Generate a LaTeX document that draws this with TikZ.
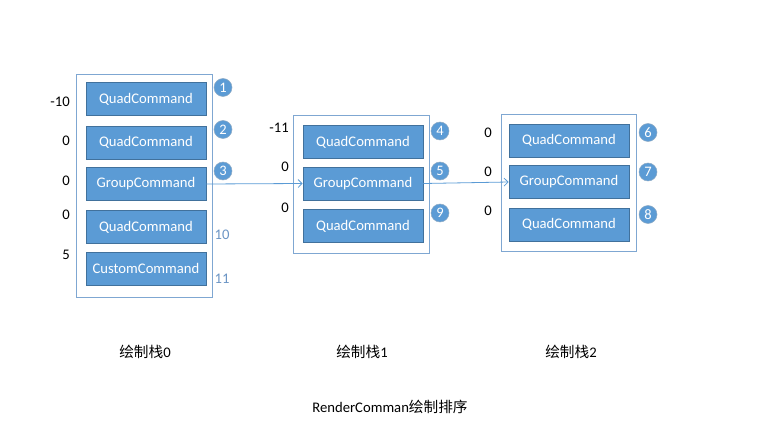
\documentclass[tikz,border=0pt]{standalone}
\usepackage{fontspec}
\setmainfont{Carlito}
\newfontfamily\cjk{Noto Sans CJK SC}
\usetikzlibrary{arrows.meta}
\definecolor{boxfill}{HTML}{5B9BD5}
\definecolor{boxborder}{HTML}{41719C}
\definecolor{framecol}{HTML}{7FA7D2}
\definecolor{numcol}{HTML}{6A94C4}
\definecolor{arrowcol}{HTML}{5B9BD5}
\tikzset{
  cmd/.style={draw=boxborder, line width=0.8pt, fill=boxfill, text=white, minimum width=120pt, minimum height=33pt, inner sep=0pt, font=\fontsize{14.67}{17}\selectfont},
  frame/.style={draw=framecol, line width=0.9pt, inner sep=0pt},
  badge/.style={circle, draw=boxborder!60, line width=0.5pt, fill=boxfill, text=white, minimum size=18pt, inner sep=0pt, font=\fontsize{14.5}{16}\selectfont},
  plainnum/.style={text=numcol, inner sep=0pt, font=\fontsize{14.67}{17}\selectfont},
  prio/.style={anchor=east, inner sep=0pt, font=\fontsize{14.67}{17}\selectfont},
  caption/.style={inner sep=0pt, font=\fontsize{14.67}{17}\selectfont},
  conn/.style={draw=arrowcol, line width=0.8pt, -{Straight Barb[length=4pt,width=8pt]}}
}
\begin{document}
\begin{tikzpicture}[x=1pt,y=-1pt]
\useasboundingbox (0,0) rectangle (777,433);
% frames
\node[frame, minimum width=136pt, minimum height=223pt] (f0) at (144,185.5) {};
\node[frame, minimum width=136pt, minimum height=138pt] (f1) at (361,184) {};
\node[frame, minimum width=135pt, minimum height=137pt] (f2) at (568.5,182.5) {};
% group 0
\node[cmd] (a1) at (146,99) {QuadCommand};
\node[cmd] (a2) at (146,142.5) {QuadCommand};
\node[cmd] (a3) at (146,184) {GroupCommand};
\node[cmd] (a4) at (146,227) {QuadCommand};
\node[cmd] (a5) at (146,268.5) {CustomCommand};
% group 1
\node[cmd] (b1) at (363,142) {QuadCommand};
\node[cmd] (b2) at (363,183.5) {GroupCommand};
\node[cmd] (b3) at (363,226) {QuadCommand};
% group 2
\node[cmd] (c1) at (569,140.5) {QuadCommand};
\node[cmd] (c2) at (569,182) {GroupCommand};
\node[cmd] (c3) at (569,224.5) {QuadCommand};
% badges
\node[badge] (n1) at (223,87.5) {1};
\node[badge] (n2) at (223,129.5) {2};
\node[badge] (n3) at (223,171) {3};
\node[plainnum] (n10) at (222,235) {10};
\node[plainnum] (n11) at (222,279) {11};
\node[badge] (n4) at (440,131) {4};
\node[badge] (n5) at (440,171) {5};
\node[badge] (n9) at (440,213) {9};
\node[badge] (n6) at (648,132.5) {6};
\node[badge] (n7) at (648,172) {7};
\node[badge] (n8) at (648,214.5) {8};
% priorities
\node[prio] (p01) at (70,102) {-10};
\node[prio] (p02) at (70,141) {0};
\node[prio] (p03) at (70,181) {0};
\node[prio] (p04) at (70,215) {0};
\node[prio] (p05) at (70,255) {5};
\node[prio] (p11) at (289,128) {-11};
\node[prio] (p12) at (289,167) {0};
\node[prio] (p13) at (289,208) {0};
\node[prio] (p21) at (492,133) {0};
\node[prio] (p22) at (492,172) {0};
\node[prio] (p23) at (492,211) {0};
% connectors
\draw[conn] (a3.east) -- (b2.west);
\draw[conn] (b2.east) -- (c2.west);
% captions
\node[caption] (s0) at (145,352) {{\cjk 绘制栈}0};
\node[caption] (s1) at (362,352) {{\cjk 绘制栈}1};
\node[caption] (s2) at (571,352) {{\cjk 绘制栈}2};
\node[caption] (title) at (390,407) {RenderComman{\cjk 绘制排序}};
\end{tikzpicture}
\end{document}
